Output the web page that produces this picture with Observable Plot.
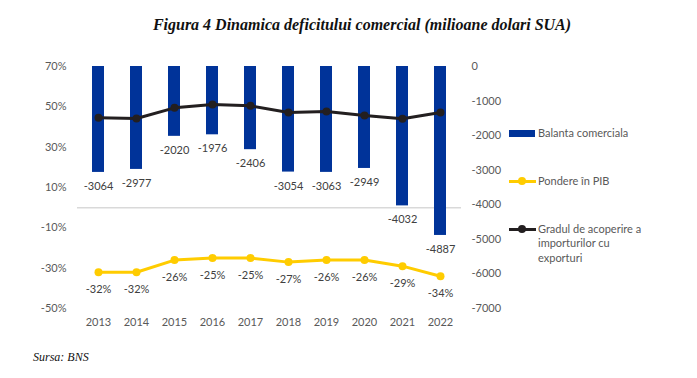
<!DOCTYPE html>
<html><head><meta charset="utf-8">
<script src="https://cdn.jsdelivr.net/npm/d3@7"></script>
<script src="https://cdn.jsdelivr.net/npm/@observablehq/plot@0.6"></script>
<style>
body{margin:0;background:#fff;}
#wrap{position:relative;width:697px;height:378px;overflow:hidden;font-family:Lato,sans-serif;color:#595959;}
#chart{position:absolute;left:0;top:0;}
#title{position:absolute;top:16px;left:142px;width:440px;text-align:center;white-space:nowrap;font:bold italic 16px "Liberation Serif",serif;color:#111;}
#caption{position:absolute;top:350px;left:33px;font:italic 12px "Liberation Serif",serif;color:#111;}
.leg{position:absolute;left:538px;font-size:11px;line-height:14.5px;color:#595959;width:112px;}
.sw{position:absolute;}
</style>
</head><body>
<div id="wrap">
  <div id="chart"></div>
  <div id="title">Figura 4 Dinamica deficitului comercial (milioane dolari SUA)</div>
  <div id="caption">Sursa: BNS</div>
  <div id="legend"></div>
</div>
<script>
const years = ["2013","2014","2015","2016","2017","2018","2019","2020","2021","2022"];
const balanta = [-3064,-2977,-2020,-1976,-2406,-3054,-3063,-2949,-4032,-4887];
const pondere = [-32,-32,-26,-25,-25,-27,-26,-26,-29,-34];
const gradul = [44.6,44.2,49.5,51.2,50.5,47.2,47.7,45.7,44.1,47.2];
const leftTicks = [70,50,30,10,-10,-30,-50];
const rightTicks = [0,-1000,-2000,-3000,-4000,-5000,-6000,-7000];
const seriesNames = ["Balanta comerciala","Pondere în PIB","Gradul de acoperire a importurilor cu exporturi"];
const colors = ["#003399","#ffcc00","#231f20"];

// right axis (0..-7000) shares the pixel range of the left axis (70..-50)
const toLeft = v => 70 + v / 7000 * 120;
const fromLeft = y => (y - 70) / 120 * 7000;

const rows = years.map((y, i) => ({year: y, balanta: balanta[i], pondere: pondere[i], gradul: gradul[i]}));

const chart = Plot.plot({
  width: 697, height: 378,
  marginTop: 66, marginBottom: 70, marginLeft: 77, marginRight: 236,
  x: {type: "band", domain: years, paddingInner: 0.69, paddingOuter: 0.345},
  y: {domain: [-50, 70]},
  style: {color: "#595959", fontFamily: "Lato, sans-serif", fontSize: "11px", background: "transparent"},
  marks: [
    Plot.ruleY([0], {stroke: "#d9d9d9", strokeWidth: 1.5}),
    Plot.barY(rows, {x: "year", y1: 70, y2: d => toLeft(d.balanta), fill: colors[0]}),
    Plot.text(rows, {x: "year", y: d => toLeft(d.balanta), text: d => String(d.balanta), dy: 14, fill: "#404040", fontSize: 11}),
    Plot.line(rows, {x: "year", y: "gradul", stroke: colors[2], strokeWidth: 3}),
    Plot.dot(rows, {x: "year", y: "gradul", fill: colors[2], r: 4}),
    Plot.line(rows, {x: "year", y: "pondere", stroke: colors[1], strokeWidth: 3}),
    Plot.dot(rows, {x: "year", y: "pondere", fill: colors[1], r: 4}),
    Plot.text(rows, {x: "year", y: "pondere", text: d => d.pondere + "%", dy: 17.5, fill: "#404040", fontSize: 11}),
    Plot.axisY(leftTicks, {anchor: "left", tickSize: 0, tickPadding: 11, tickFormat: d => d + "%", label: null}),
    Plot.axisY(rightTicks.map(toLeft), {anchor: "right", tickSize: 0, tickPadding: 10, tickFormat: d => String(Math.round(fromLeft(d))), label: null}),
    Plot.axisX({tickSize: 0, tickPadding: 10, label: null})
  ]
});
document.getElementById("chart").appendChild(chart);

// legend
const leg = document.getElementById("legend");
const items = [{cy: 133, kind: "bar"}, {cy: 181, kind: "line"}, {cy: 229, kind: "line"}];
items.forEach((it, i) => {
  if (it.kind === "bar") {
    const s = document.createElement("div");
    s.className = "sw";
    Object.assign(s.style, {left: "509px", top: (it.cy - 3) + "px", width: "26px", height: "7px", background: colors[i]});
    leg.appendChild(s);
  } else {
    const s = document.createElement("div");
    s.className = "sw";
    Object.assign(s.style, {left: "509px", top: (it.cy - 1.5) + "px", width: "27px", height: "3px", background: colors[i]});
    leg.appendChild(s);
    const d = document.createElement("div");
    d.className = "sw";
    Object.assign(d.style, {left: "518px", top: (it.cy - 4) + "px", width: "8px", height: "8px", borderRadius: "50%", background: colors[i]});
    leg.appendChild(d);
  }
  const t = document.createElement("div");
  t.className = "leg";
  t.style.top = (it.cy - 7.5) + "px";
  t.textContent = seriesNames[i];
  leg.appendChild(t);
});
</script>
</body></html>
